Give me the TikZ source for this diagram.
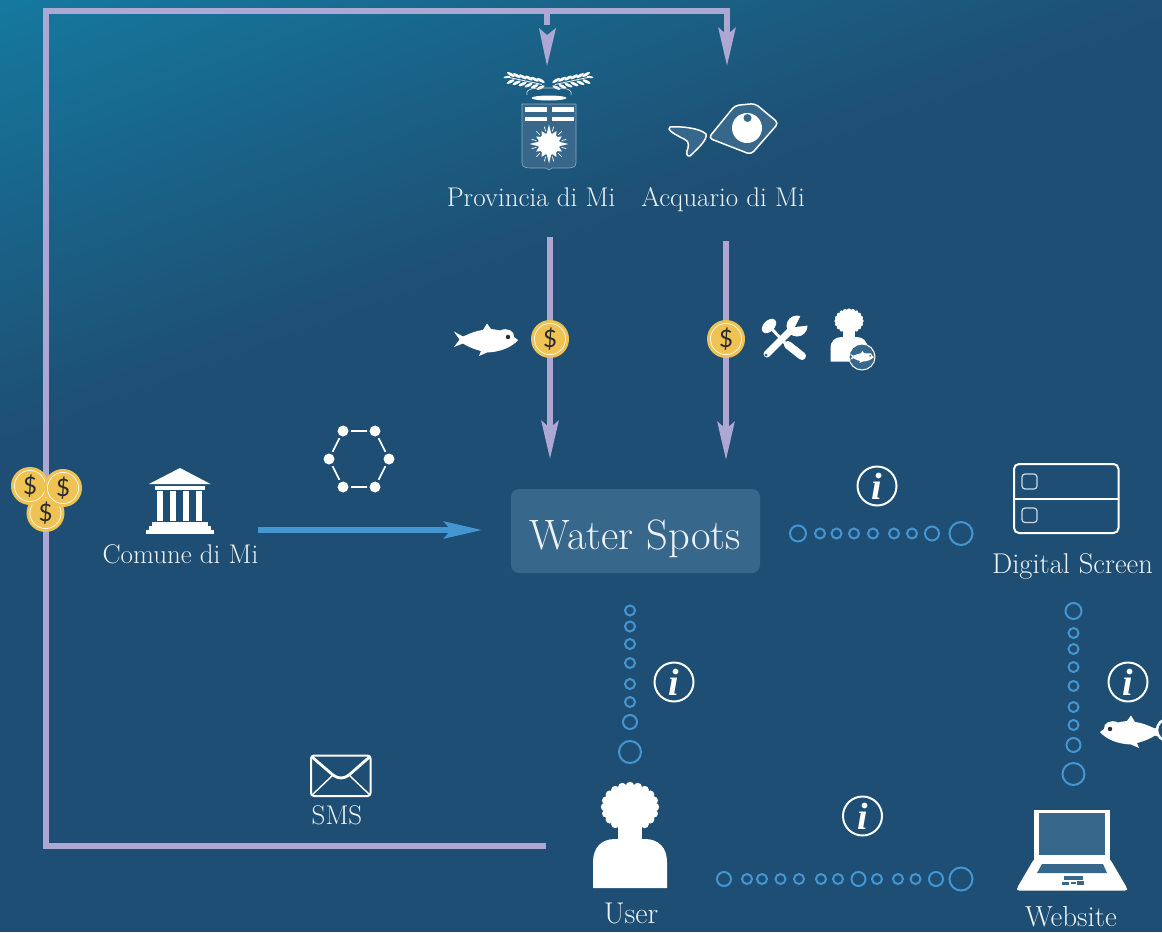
\documentclass[tikz,border=0pt]{standalone}
\usepackage{fontspec}
\usetikzlibrary{arrows.meta}
\newfontfamily\coinfont{Lato}
\newfontfamily\infofont{Liberation Serif}
\definecolor{bgA}{HTML}{15799F}
\definecolor{bgB}{HTML}{1E4E73}
\definecolor{panel}{HTML}{37678A}
\definecolor{lilac}{HTML}{ACA8D3}
\definecolor{sky}{HTML}{4496D2}
\definecolor{gold}{HTML}{EEC353}
\definecolor{ink}{HTML}{2A2A33}
\definecolor{lbltxt}{HTML}{EDF2F6}
\tikzset{
  lbl/.style={text=lbltxt,font=\fontsize{27}{32}\selectfont,inner sep=0pt,anchor=base},
  frameline/.style={draw=lilac,line width=5.5pt,line join=miter},
  lilacarrow/.style={draw=lilac,line width=5.5pt,-{Stealth[length=38pt,width=17pt,inset=7pt]}},
  skyarrow/.style={draw=sky,line width=5.5pt,-{Stealth[length=38pt,width=17pt,inset=7pt]}},
  coin/.style={circle,inner sep=0pt,minimum size=35pt,fill=gold,draw=gold,line width=3pt,text=ink,
    font=\coinfont\fontsize{24}{24}\selectfont,
    path picture={\draw[white,line width=1.6pt] (path picture bounding box.center) circle (16);}},
  dotring/.style={circle,inner sep=0pt,draw=sky,line width=2pt,fill=none},
  hexdot/.style={circle,inner sep=0pt,minimum size=11pt,fill=white,outer sep=2.5pt},
  hexedge/.style={draw=white,line width=1.6pt},
  inforing/.style={circle,inner sep=0pt,minimum size=39pt,draw=white,line width=2pt,text=white,
    font=\infofont\bfseries\itshape\fontsize{38}{38}\selectfont},
  fishicon/.pic={
    \fill[white] (32,0) -- (28,-3) .. controls (29,-9) and (21,-13) .. (14,-9.5)
      .. controls (11,-10) and (8,-11) .. (5,-11) -- (1,-16.5) -- (-3,-10)
      .. controls (-12,-9) and (-19,-5) .. (-23,-3.5) -- (-32,-8.5)
      .. controls (-30,-5) and (-28,-3) .. (-26.5,-0.5) .. controls (-28,2) and (-30,4) .. (-32,7)
      -- (-23,3.5) .. controls (-16,8) and (-9,10) .. (-5,11) -- (-7,16) -- (1,12.5)
      .. controls (15,12) and (26,7) .. (32,0) -- cycle;
    \fill[ink] (22,-3) circle (2.2);
  },
  person/.pic={
    \fill[white] (0,0) ellipse (26 and 22);
    \foreach \a in {0,18,...,342} {\fill[white] (\a:25 and 21) circle (4.2);}
    \fill[white] (-12,10) rectangle (12,35);
    \fill[white] (-37,81) -- (-37,55) .. controls (-37,40) and (-28,32) .. (-15,32)
      -- (15,32) .. controls (28,32) and (37,40) .. (37,55) -- (37,81) -- cycle;
  },
  leafspray/.pic={
    \foreach \t/\yy in {0/0,6/1.2,12/2.4,18/3.6,24/4.8,30/6} {
      \fill[white,rotate around={-30:(-\t,-\yy)}] (-\t-1,-\yy-3.5) ellipse (4.4 and 1.5);
      \fill[white,rotate around={25:(-\t,-\yy)}] (-\t-1,-\yy+3.5) ellipse (4.4 and 1.5);
    }
    \fill[white,rotate around={10:(-33,-7)}] (-33,-7) ellipse (3.5 and 1);
    \draw[white,line width=0.8pt] (2,0.5) -- (-33,-7);
  }
}
\begin{document}
\begin{tikzpicture}[x=1pt,y=-1pt]
\useasboundingbox (0,0) rectangle (1162,932);
\begin{scope}
\clip (0,0) rectangle (1162,932);
\fill[bgB] (0,0) rectangle (1162,932);
\foreach \i in {60,59,...,0} {
  \pgfmathsetmacro{\dd}{\i*7}
  \pgfmathsetmacro{\pp}{100-\i*100/60}
  \colorlet{bandc}{bgA!\pp!bgB}
  \fill[bandc,rotate=20] (-2000,-2000) rectangle (2000,\dd);
}
\end{scope}

% named anchors for connectors
\coordinate (fStart) at (546,846);
\coordinate (fBL) at (46,846);
\coordinate (fTL) at (46,11);
\coordinate (fJoin) at (547,11);
\coordinate (fStub) at (547,25);
\coordinate (fTR) at (727,11);
\coordinate (fEnd) at (727,66);
\coordinate (provOut) at (550,237);
\coordinate (provIn) at (550,459);
\coordinate (acqOut) at (726,241);
\coordinate (acqIn) at (726,460);
\coordinate (comOut) at (258,530);
\coordinate (comIn) at (482,530);

\draw[frameline] (fStart) -- (fBL) -- (fTL) -- (fTR) -- (727,30);
\draw[lilacarrow] (fTR) -- (fEnd);
\draw[frameline] (fJoin) -- (fStub);
\fill[lilac] (547,66) -- (539,28) -- (547,35) -- (556,28) -- cycle;
\draw[lilacarrow] (provOut) -- (provIn);
\draw[lilacarrow] (acqOut) -- (acqIn);
\draw[skyarrow] (comOut) -- (comIn);

% coins
\node[coin] (coinP) at (550,339) {\$};
\node[coin] (coinA) at (726,339) {\$};
\node[coin] (coinC) at (45.5,513) {\$};
\node[coin] (coinB) at (30,486) {\$};
\node[coin] (coinD) at (63,488) {\$};

% Water Spots
\node[fill=panel,rounded corners=8pt,minimum width=249pt,minimum height=84pt,inner sep=0pt] (ws) at (635.5,531) {};
\node[text=lbltxt,font=\fontsize{42.5}{46}\selectfont,inner sep=0pt,anchor=base] (wsText) at (635.5,549) {Water Spots};

% labels
\node[lbl] (lProv) at (531,206) {Provincia di Mi};
\node[lbl] (lAcq) at (723,206) {Acquario di Mi};
\node[lbl] (lCom) at (180.5,563) {Comune di Mi};
\node[lbl,font=\fontsize{28.6}{32}\selectfont] (lDig) at (1072.5,573) {Digital Screen};
\node[lbl,font=\fontsize{30}{32}\selectfont] (lUser) at (631,923) {User};
\node[lbl,font=\fontsize{29}{32}\selectfont] (lWeb) at (1071,926) {Website};
\node[lbl] (lSms) at (337,824) {SMS};

% info icons
\node[inforing] (info1) at (877,486) {i};
\node[inforing] (info2) at (674,682) {i};
\node[inforing] (info3) at (1128,682) {i};
\node[inforing] (info4) at (862.5,816) {i};

% dot rows
\foreach \x/\r [count=\n] in {798/8,820/5,836.5/5,854/5,873/5,894/5,912/5,932/7,961/11.5}
  \node[dotring,minimum size=2*\r pt] (hd\n) at (\x,533.5) {};
\foreach \y/\r [count=\n] in {610.5/5,626.5/5,644/5,663/5,684/5,702/5,722/7,752/11}
  \node[dotring,minimum size=2*\r pt] (ud\n) at (630,\y) {};
\foreach \y/\r [count=\n] in {611/8,633/5,649/5,667/5,686/5,707/5,725/5,745/7,774/11}
  \node[dotring,minimum size=2*\r pt] (vd\n) at (1073.5,\y) {};
\foreach \x/\r [count=\n] in {724/7,747/5,762/5,780.5/5,799/5,821/5,838/5,858.5/7,877/5,898/5,915.5/5,936/7,961/11.5}
  \node[dotring,minimum size=2*\r pt] (bd\n) at (\x,879) {};

% hexagon
\node[hexdot] (h1) at (343,431) {};
\node[hexdot] (h2) at (375,431) {};
\node[hexdot] (h3) at (389,459) {};
\node[hexdot] (h4) at (375,487) {};
\node[hexdot] (h5) at (343,487) {};
\node[hexdot] (h6) at (329,459) {};
\draw[hexedge] (h1)--(h2) (h2)--(h3) (h3)--(h4) (h4)--(h5) (h5)--(h6) (h6)--(h1);

% temple
\fill[white] (180,468) -- (210.5,484) -- (149,484) -- cycle;
\fill[white] (155,486) rectangle (205,490);
\foreach \x in {157.3,170.3,183.3,196.3} \fill[white] (\x,491) rectangle (\x+6,520.5);
\fill[white] (152,522) rectangle (208,526);
\fill[white] (149,526) rectangle (211,530);
\fill[white] (146,530) rectangle (214,533.5);

% shield emblem
\pic at (540,84) {leafspray};
\pic[xscale=-1] at (557,84) {leafspray};
\draw[white!70!panel,line width=0.7pt] (527,95) .. controls (525,88) and (535,88) .. (549,88) .. controls (563,88) and (573,88) .. (571,95);
\fill[white] (549,98) ellipse (17.5 and 2.5);
\filldraw[fill=panel,draw=white!45!panel,line width=0.6pt] (522,104) -- (576,104) -- (576,163) .. controls (576,167) and (572,168) .. (568,168)
  -- (552,168) -- (549,170) -- (546,168) -- (530,168) .. controls (526,168) and (522,167) .. (522,163) -- cycle;
\foreach \yy in {107,116.7} {
  \fill[white] (525,\yy) rectangle (547,\yy+4.7);
  \fill[white] (552,\yy) rectangle (574,\yy+4.7);
}
\begin{scope}[shift={(549,144)}]
  \fill[white] (0,0) circle (11);
  \foreach \a in {0,90,180,270} \fill[white] (\a-14:10) -- (\a:19.5) -- (\a+14:10) -- cycle;
  \foreach \a in {30,60,120,150,210,240,300,330} \fill[white] (\a-12:10.5) -- (\a:15) -- (\a+12:10.5) -- cycle;
  \foreach \a in {15,45,75,105,135,165,195,225,255,285,315,345} \draw[white,line width=0.7pt] (\a:13) -- (\a:18);
\end{scope}

% aquarium fish
\filldraw[fill=panel,draw=white,line width=1.5pt,rounded corners=4pt]
  (708.5,138) -- (735,105.5) -- (755,103.5) -- (778.5,123) -- (751,154.5) -- cycle;
\fill[white] (747,128) circle (15);
\fill[panel] (747.5,118) circle (4);
\filldraw[fill=panel,draw=white,line width=1.5pt,line join=round]
  (670,127) .. controls (680,126) and (700,128) .. (706,134) .. controls (708,140) and (696,150) .. (690,156)
  .. controls (686,157) and (686,152) .. (688,148) .. controls (689,143) and (688,141) .. (684,139)
  .. controls (678,136) and (670,132) .. (669,129) -- cycle;

% fish (white) near provincia coin
\pic at (486,340) {fishicon};

% tools
\draw[white,line width=3pt] (769,326) -- (786,344);
\fill[white,rotate around={45:(769,326)}] (769,326) ellipse (8.5 and 5.5);
\draw[white,line width=8pt,line cap=round] (788,345) -- (802,356);
\draw[white,line width=7pt,line cap=round] (767,354) -- (790,331);
\fill[white] (797,326) circle (10.5);
\fill[bgB] (795,327) -- (801,315) -- (812,325) -- cycle;
\fill[panel] (766,355) circle (1.6);

% small person with badge
\pic[scale=0.5] at (849,321) {person};
\node[circle,inner sep=0pt,minimum size=26pt,fill=panel,draw=white,line width=1pt] (badge) at (862,357) {};
\pic[scale=0.37] at (862,357) {fishicon};

% fish beside digital screen (mirrored) and cropped ring
\pic[xscale=-1] at (1132,732) {fishicon};
\filldraw[fill=bgB,draw=white,line width=2.5pt] (1168,730) circle (11);

% digital screen
\draw[white,line width=2pt,rounded corners=5pt] (1014,464) rectangle (1118.5,533);
\draw[white,line width=2pt] (1014,499) -- (1118.5,499);
\draw[white!75!panel,line width=1.2pt,rounded corners=3pt] (1022,474) rectangle (1037,489);
\draw[white!75!panel,line width=1.2pt,rounded corners=3pt] (1022,508) rectangle (1037,522.5);

% user
\pic at (630,807) {person};

% laptop
\fill[white] (1034,810) rectangle (1110,860);
\fill[panel] (1039,813) rectangle (1105,855);
\fill[white,rounded corners=2pt] (1034,859) -- (1110,859) -- (1127,888) -- (1127,890.5) -- (1017,890.5) -- (1017,888) -- cycle;
\fill[panel] (1042,864) -- (1103,864) -- (1107,873) -- (1037,873) -- cycle;
\fill[panel] (1064,876) rectangle (1083,880);
\fill[panel] (1062,881.5) rectangle (1069,885);
\fill[panel] (1070.5,881.5) rectangle (1076,884);
\fill[panel] (1077,881) rectangle (1083.5,884.5);

% envelope
\draw[white,line width=2pt,rounded corners=3pt] (311,755.5) rectangle (370.5,796);
\draw[white,line width=2.8pt,line join=round] (312,757) -- (333,775) .. controls (338,779) and (344,779) .. (349,775) -- (369.5,757);
\draw[white,line width=1.4pt] (312,795) -- (333,775);
\draw[white,line width=1.4pt] (370,795) -- (349,775);
\end{tikzpicture}
\end{document}
